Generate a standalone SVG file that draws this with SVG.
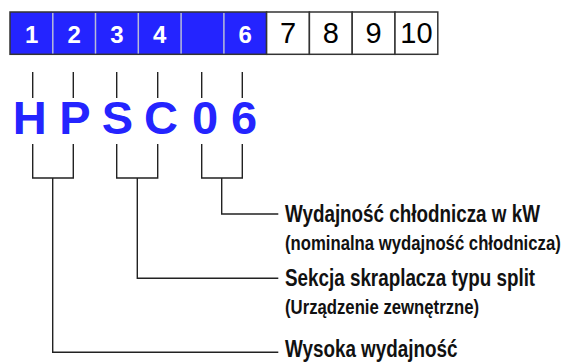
<svg xmlns="http://www.w3.org/2000/svg" width="565" height="362" viewBox="0 0 565 362">
<style>
.cw{fill:#ffffff;stroke:#333333;stroke-width:1.5}
.tw{font-family:"Liberation Sans",Arial,sans-serif;font-weight:bold;font-size:24px;fill:#ffffff;text-anchor:middle}
.tk{font-family:"Liberation Sans",Arial,sans-serif;font-size:29px;fill:#000000;text-anchor:middle}
.code{font-family:"Liberation Sans",Arial,sans-serif;font-weight:bold;font-size:47px;fill:#2424ff;text-anchor:middle}
.lab{font-family:"Liberation Sans",Arial,sans-serif;font-weight:bold;font-size:24px;fill:#111111}
.sub{font-family:"Liberation Sans",Arial,sans-serif;font-weight:bold;font-size:20px;fill:#111111}
.ln{fill:none;stroke:#222222;stroke-width:1.4}
</style>
<g id="code-boxes">
<rect x="10" y="12" width="256.6" height="42.3" fill="#2424ff" stroke="#333333" stroke-width="1.5"/>
<g stroke="#b8bcd8" stroke-width="1.5">
<line x1="52.8" y1="13" x2="52.8" y2="53.5"/>
<line x1="95.5" y1="13" x2="95.5" y2="53.5"/>
<line x1="138.3" y1="13" x2="138.3" y2="53.5"/>
<line x1="181.1" y1="13" x2="181.1" y2="53.5"/>
<line x1="223.9" y1="13" x2="223.9" y2="53.5"/>
</g>
<rect class="cw" x="266.6" y="12" width="42.8" height="42.3"/>
<rect class="cw" x="309.4" y="12" width="42.8" height="42.3"/>
<rect class="cw" x="352.2" y="12" width="42.8" height="42.3"/>
<rect class="cw" x="395" y="12" width="42.8" height="42.3"/>
<text class="tw" x="31.6" y="43.3">1</text>
<text class="tw" x="74.3" y="43.3">2</text>
<text class="tw" x="117" y="43.3">3</text>
<text class="tw" x="159.8" y="43.3">4</text>
<text class="tw" x="245.3" y="43.3">6</text>
<text class="tk" x="288" y="42.7">7</text>
<text class="tk" x="330.8" y="42.7">8</text>
<text class="tk" x="373.6" y="42.7">9</text>
<text class="tk" x="416.4" y="42.7">10</text>
</g>
<g id="code-letters">
<text class="code" x="29.7" y="134">H</text>
<text class="code" x="75" y="134">P</text>
<text class="code" x="117.5" y="134">S</text>
<text class="code" x="161" y="134">C</text>
<text class="code" x="205" y="134">0</text>
<text class="code" x="244" y="134">6</text>
</g>
<g id="connectors">
<path class="ln" d="M32.7 72V98M73.3 72V98M116.7 72V98M157.7 72V98M201.7 72V98M242.3 72V98"/>
<path class="ln" d="M32.7 144V178H73.3V144"/>
<path class="ln" d="M116.7 144V178H157.7V144"/>
<path class="ln" d="M201.7 144V178H242.3V144"/>
<path class="ln" d="M221.7 178V214H278.3"/>
<path class="ln" d="M137.3 178V278.3H278.3"/>
<path class="ln" d="M52.7 178V352.3H278.3"/>
</g>
<g id="label-capacity">
<text class="lab" transform="translate(285 222) scale(0.785 1)">Wydajność chłodnicza w kW</text>
<text class="sub" transform="translate(285 250) scale(0.836 1)">(nominalna wydajność chłodnicza)</text>
</g>
<g id="label-section">
<text class="lab" transform="translate(285 286) scale(0.785 1)">Sekcja skraplacza typu split</text>
<text class="sub" transform="translate(285 314) scale(0.836 1)">(Urządzenie zewnętrzne)</text>
</g>
<g id="label-efficiency">
<text class="lab" style="font-size:23px" transform="translate(285 357) scale(0.82 1)">Wysoka wydajność</text>
</g>
</svg>
